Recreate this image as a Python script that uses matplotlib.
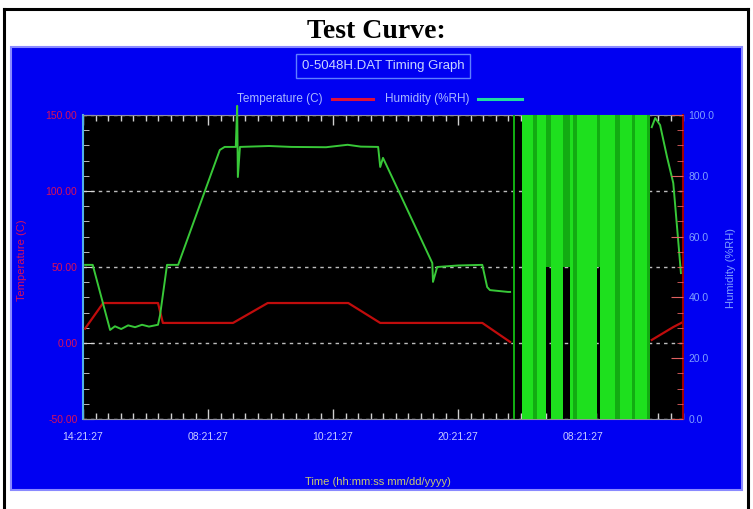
import matplotlib
matplotlib.use("Agg")
import matplotlib.pyplot as plt
import numpy as np
from matplotlib.patches import Rectangle
from matplotlib.lines import Line2D
from matplotlib.ticker import MultipleLocator

W, H = 753, 509

# ---------------- data ----------------
x_tick_hours = [0, 18, 36, 54, 72]
x_tick_labels = ["14:21:27", "08:21:27", "10:21:27", "20:21:27", "08:21:27"]
temp_ticks = [-50, 0, 50, 100, 150]
temp_tick_labels = ["-50.00", "0.00", "50.00", "100.00", "150.00"]
hum_ticks = [0, 20, 40, 60, 80, 100]
hum_tick_labels = ["0.0", "20.0", "40.0", "60.0", "80.0", "100.0"]

nan = np.nan
temp_hours = [0.3, 2.9, 10.8, 11.5, 21.6, 26.6, 38.2, 42.8, 57.5, 61.5, nan, 81.9, 85.0, 86.4]
temp_values = [9.5, 26.3, 26.3, 13.2, 13.2, 26.3, 26.3, 13.2, 13.2, 0.7, nan, 2.0, 10.5, 13.8]

hum_hours = [0.3, 1.4, 3.9, 4.6, 5.5, 6.5, 7.5, 8.5, 9.5, 10.8, 11.1, 12.1, 13.7, 16.0,
             19.7, 20.4, 22.0, 22.2, 22.3, 22.6, 26.8, 30.0, 35.0, 38.1, 40.0, 42.5,
             42.8, 43.2, 46.0, 50.3, 50.4, 51.0, 54.0, 57.5, 58.2, 58.6, 61.2, 61.5,
             nan, 81.9, 82.4, 83.1, 84.1, 85.0, 85.7, 86.1]
hum_values = [50.7, 50.7, 29.3, 30.5, 29.6, 30.8, 30.2, 31.0, 30.4, 31.0, 34.2, 50.7, 50.7, 65.2,
              88.5, 89.5, 89.5, 103.0, 79.6, 89.5, 89.8, 89.5, 89.4, 90.2, 89.6, 89.5,
              82.9, 85.9, 72.3, 51.3, 45.1, 50.0, 50.5, 50.7, 43.4, 42.4, 41.8, 41.8,
              nan, 96.0, 99.0, 96.7, 86.2, 77.6, 58.9, 48.0]

# sensor drop-out region (humidity flickering 0..100)
bright_start = [63.2, 65.4, 67.4, 70.1, 71.1, 74.4, 77.3, 79.5]
bright_end = [64.8, 66.7, 69.1, 70.6, 74.0, 76.6, 79.1, 81.2]
dim_start = [61.9, 64.8, 70.6, 76.6, 79.1, 81.2]
dim_end = [62.2, 65.4, 71.1, 77.3, 79.5, 81.6]
dim_upper_start = [66.7, 69.1, 74.0]
dim_upper_end = [67.4, 70.1, 74.4]
dim_upper_low = 50

# ---------------- helpers ----------------
def fx(x):
    return x / W

def fy(y):
    return 1 - y / H

fig = plt.figure(figsize=(W / 100, H / 100), dpi=100)
fig.patch.set_facecolor("white")

# outer table frame
for (x0, y0, x1, y1) in [(4, 9, 748, 9), (4, 9, 4, 509), (748, 9, 748, 509)]:
    fig.add_artist(Line2D([fx(x0), fx(x1)], [fy(y0), fy(y1)], color="black", lw=2.2, zorder=-2))

fig.text(fx(376), fy(31), "Test Curve:", ha="center", va="center",
         fontsize=20, fontweight="bold", family="Liberation Serif", color="black")

# blue panel
fig.add_artist(Rectangle((fx(11), fy(490)), fx(742) - fx(11), fy(47) - fy(490),
                         transform=fig.transFigure, facecolor="#0000f2",
                         edgecolor="#8a8aff", lw=1.5, zorder=-1))

# chart title box
fig.text(fx(383), fy(66), "0-5048H.DAT Timing Graph", ha="center", va="center",
         fontsize=9.5, family="Liberation Sans", color="#c8d4ff",
         bbox=dict(boxstyle="square,pad=0.45", facecolor="none", edgecolor="#5f7fff", lw=1))

# legend
fig.text(fx(323), fy(99), "Temperature (C)", ha="right", va="center",
         fontsize=8.5, family="Liberation Sans", color="#a8b8ff")
fig.add_artist(Line2D([fx(332), fx(373)], [fy(99), fy(99)], color="#e0103a", lw=2.2))
fig.text(fx(385), fy(99), "Humidity (%RH)", ha="left", va="center",
         fontsize=8.5, family="Liberation Sans", color="#a8b8ff")
fig.add_artist(Line2D([fx(478), fx(522)], [fy(99), fy(99)], color="#20dca0", lw=2.2))

# axes
ax = fig.add_axes([fx(83), fy(419), fx(683) - fx(83), fy(115) - fy(419)])
ax.set_facecolor("black")
ax.set_xlim(0, 86.4)
ax.set_ylim(-50, 150)
ax2 = ax.twinx()
ax2.set_ylim(0, 100)
ax2.patch.set_visible(False)

# temperature
ax.plot(temp_hours, temp_values, color="#c00c0c", lw=1.6, zorder=3)

# humidity drop-out bands
ax2.bar(bright_start, [100] * len(bright_start),
        width=np.array(bright_end) - np.array(bright_start), bottom=0,
        align="edge", color="#1ee01e", lw=0, zorder=1)
ax2.bar(dim_start, [100] * len(dim_start),
        width=np.array(dim_end) - np.array(dim_start), bottom=0,
        align="edge", color="#12ac12", lw=0, zorder=1)
ax2.bar(dim_upper_start, [100 - dim_upper_low] * len(dim_upper_start),
        width=np.array(dim_upper_end) - np.array(dim_upper_start), bottom=dim_upper_low,
        align="edge", color="#12ac12", lw=0, zorder=1)
# humidity line
ax2.plot(hum_hours, hum_values, color="#38c838", lw=1.4, zorder=2, clip_on=False)

# grids
ax.set_xticks(x_tick_hours)
ax.set_xticklabels(x_tick_labels)
ax.set_yticks(temp_ticks)
ax.set_yticklabels(temp_tick_labels)
ax.yaxis.set_minor_locator(MultipleLocator(10))
ax.xaxis.set_minor_locator(MultipleLocator(1.8))
ax.grid(axis="y", color="#bdbdbd", lw=1, linestyle=(0, (2.5, 3)))
ax2.set_axisbelow(False)
ax2.grid(axis="x", color="#c8c8c8", lw=1, linestyle=(0, (2.5, 3)), zorder=2.5)
ax2.set_yticks(hum_ticks)
ax2.set_yticklabels(hum_tick_labels)
ax2.yaxis.set_minor_locator(MultipleLocator(5))

for s in ["top", "bottom"]:
    ax.spines[s].set_color("#9090a0")
    ax2.spines[s].set_visible(False)
ax.spines["left"].set_color("#50b0e8")
ax.spines["left"].set_linewidth(1.5)
ax.spines["right"].set_visible(False)
ax2.spines["left"].set_visible(False)
ax2.spines["right"].set_color("#a00000")
ax2.spines["right"].set_linewidth(1.5)

ax.tick_params(axis="x", which="both", direction="in", top=True, bottom=True,
               colors="#d0d0d0", labelcolor="#c8ccff", labelsize=7.5, pad=9)
ax.tick_params(axis="x", which="major", length=7, width=1)
ax.tick_params(axis="x", which="minor", length=4, width=1)
ax.tick_params(axis="y", which="both", direction="in", colors="#d8d8d8",
               labelcolor="#d8105a", labelsize=7.5, pad=4)
ax.tick_params(axis="y", which="major", length=8)
ax.tick_params(axis="y", which="minor", length=4)
ax2.tick_params(axis="y", which="both", direction="in", colors="#e06060",
                labelcolor="#7f9fff", labelsize=7.5, pad=4)
ax2.tick_params(axis="y", which="major", length=9)
ax2.tick_params(axis="y", which="minor", length=4)
ax2.tick_params(axis="x", which="both", bottom=False, top=False, labelbottom=False)
for lab in ax.get_xticklabels() + ax.get_yticklabels() + ax2.get_yticklabels():
    lab.set_family("Liberation Sans")

# axis titles
fig.text(fx(22), fy(260), "Temperature (C)", rotation=90, ha="center", va="center",
         fontsize=8, family="Liberation Sans", color="#d8105a")
fig.text(fx(731), fy(268), "Humidity (%RH)", rotation=90, ha="center", va="center",
         fontsize=8, family="Liberation Sans", color="#7f9fff")
fig.text(fx(378), fy(482), "Time (hh:mm:ss mm/dd/yyyy)", ha="center", va="center",
         fontsize=8, family="Liberation Sans", color="#c8c870")

fig.savefig("out.png", dpi=100, facecolor="white")
